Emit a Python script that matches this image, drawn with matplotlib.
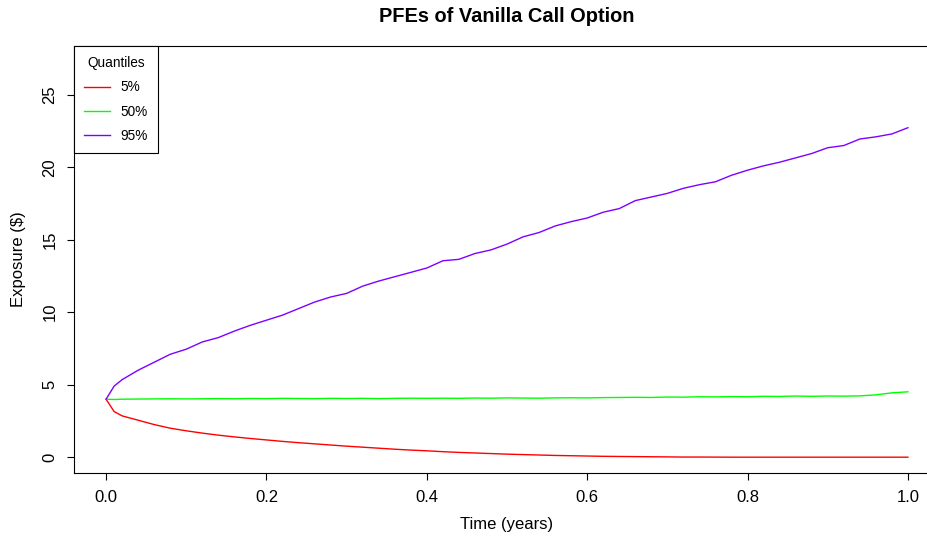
import numpy as np
import matplotlib
matplotlib.use("Agg")
import matplotlib.pyplot as plt

plt.rcParams['font.family'] = ['Liberation Sans', 'DejaVu Sans']

# Time grid (years) and exposure quantiles ($)
time = [0.00, 0.01, 0.02, 0.04, 0.06, 0.08, 0.10, 0.12, 0.14, 0.16, 0.18,
        0.20, 0.22, 0.24, 0.26, 0.28, 0.30, 0.32, 0.34, 0.36, 0.38,
        0.40, 0.42, 0.44, 0.46, 0.48, 0.50, 0.52, 0.54, 0.56, 0.58,
        0.60, 0.62, 0.64, 0.66, 0.68, 0.70, 0.72, 0.74, 0.76, 0.78,
        0.80, 0.82, 0.84, 0.86, 0.88, 0.90, 0.92, 0.94, 0.96, 0.98, 1.00]

q05 = [4.00, 3.15, 2.85, 2.55, 2.25, 2.00, 1.82, 1.66, 1.52, 1.40, 1.29,
       1.19, 1.09, 1.00, 0.92, 0.84, 0.76, 0.69, 0.62, 0.55, 0.49,
       0.44, 0.38, 0.33, 0.29, 0.25, 0.21, 0.18, 0.15, 0.12, 0.10,
       0.08, 0.06, 0.05, 0.04, 0.03, 0.02, 0.01, 0.01, 0.005, 0.0,
       0.0, 0.0, 0.0, 0.0, 0.0, 0.0, 0.0, 0.0, 0.0, 0.0, 0.0]

q50 = [4.00, 3.98, 4.00, 4.01, 4.02, 4.03, 4.02, 4.03, 4.04, 4.03, 4.05,
       4.04, 4.06, 4.05, 4.04, 4.06, 4.05, 4.06, 4.04, 4.06, 4.07,
       4.06, 4.07, 4.06, 4.08, 4.07, 4.09, 4.08, 4.07, 4.09, 4.10,
       4.09, 4.11, 4.12, 4.13, 4.12, 4.15, 4.14, 4.17, 4.16, 4.18,
       4.17, 4.20, 4.19, 4.22, 4.20, 4.22, 4.21, 4.23, 4.30, 4.44, 4.51]

q95 = [4.00, 4.90, 5.35, 6.00, 6.55, 7.10, 7.45, 7.95, 8.25, 8.70, 9.10,
       9.45, 9.80, 10.25, 10.70, 11.05, 11.30, 11.80, 12.15, 12.45, 12.75,
       13.05, 13.55, 13.65, 14.05, 14.30, 14.70, 15.20, 15.50, 15.95, 16.25,
       16.50, 16.90, 17.15, 17.70, 17.95, 18.20, 18.55, 18.80, 19.00, 19.45,
       19.80, 20.10, 20.35, 20.65, 20.95, 21.35, 21.50, 21.95, 22.10, 22.30, 22.73]

labels = ["5%", "50%", "95%"]
colors = ["#FF0000", "#00FF00", "#7F00FF"]

W, H = 928, 541
fig = plt.figure(figsize=(W / 100, H / 100), dpi=100)
# plot region runs past the right edge of the canvas
left, right, top, bottom = 74, 940, 46, 473
ax = fig.add_axes([left / W, (H - bottom) / H, (right - left) / W, (bottom - top) / H])

for series, lab, col in zip([q05, q50, q95], labels, colors):
    ax.plot(time, series, color=col, linewidth=1.0, label=lab)

# R-style 4% padding, y range topped at 1.2 x max
ymax = 1.2 * max(q95)
ax.set_xlim(-0.04, 1.04)
ax.set_ylim(-0.04 * ymax, 1.04 * ymax)

ax.set_xticks(np.arange(0, 1.01, 0.2))
ax.set_xticklabels([f"{v:.1f}" for v in np.arange(0, 1.01, 0.2)])
ax.set_yticks(np.arange(0, 26, 5))
ax.tick_params(direction='out', length=5, width=0.8, labelsize=12, pad=7, colors='black')
ax.tick_params(axis='y', labelrotation=90)
for t in ax.get_yticklabels():
    t.set_va('center')

for s in ax.spines.values():
    s.set_linewidth(0.8)
    s.set_color('black')
ax.spines['right'].set_visible(False)

ax.set_xlabel("Time (years)", fontsize=12)
ax.set_ylabel("Exposure ($)", fontsize=12)
ax.xaxis.set_label_coords(0.5, (bottom - 525) / (bottom - top))
ax.yaxis.set_label_coords((18 - left) / (right - left), 0.5)
ax.xaxis.label.set_va('center')
ax.yaxis.label.set_va('center')

fig.text(507 / W, 1 - 16 / H, "PFEs of Vanilla Call Option",
         ha='center', va='center', fontsize=14.4, fontweight='bold')

leg = ax.legend(loc='upper left', title="Quantiles", fontsize=9.8, title_fontsize=9.8,
                frameon=True, fancybox=False, borderaxespad=0, handlelength=1.9,
                handletextpad=0.75, edgecolor='black', framealpha=1,
                borderpad=0.75, labelspacing=0.75)
leg.get_frame().set_linewidth(0.8)

fig.savefig("out.png", dpi=100)
